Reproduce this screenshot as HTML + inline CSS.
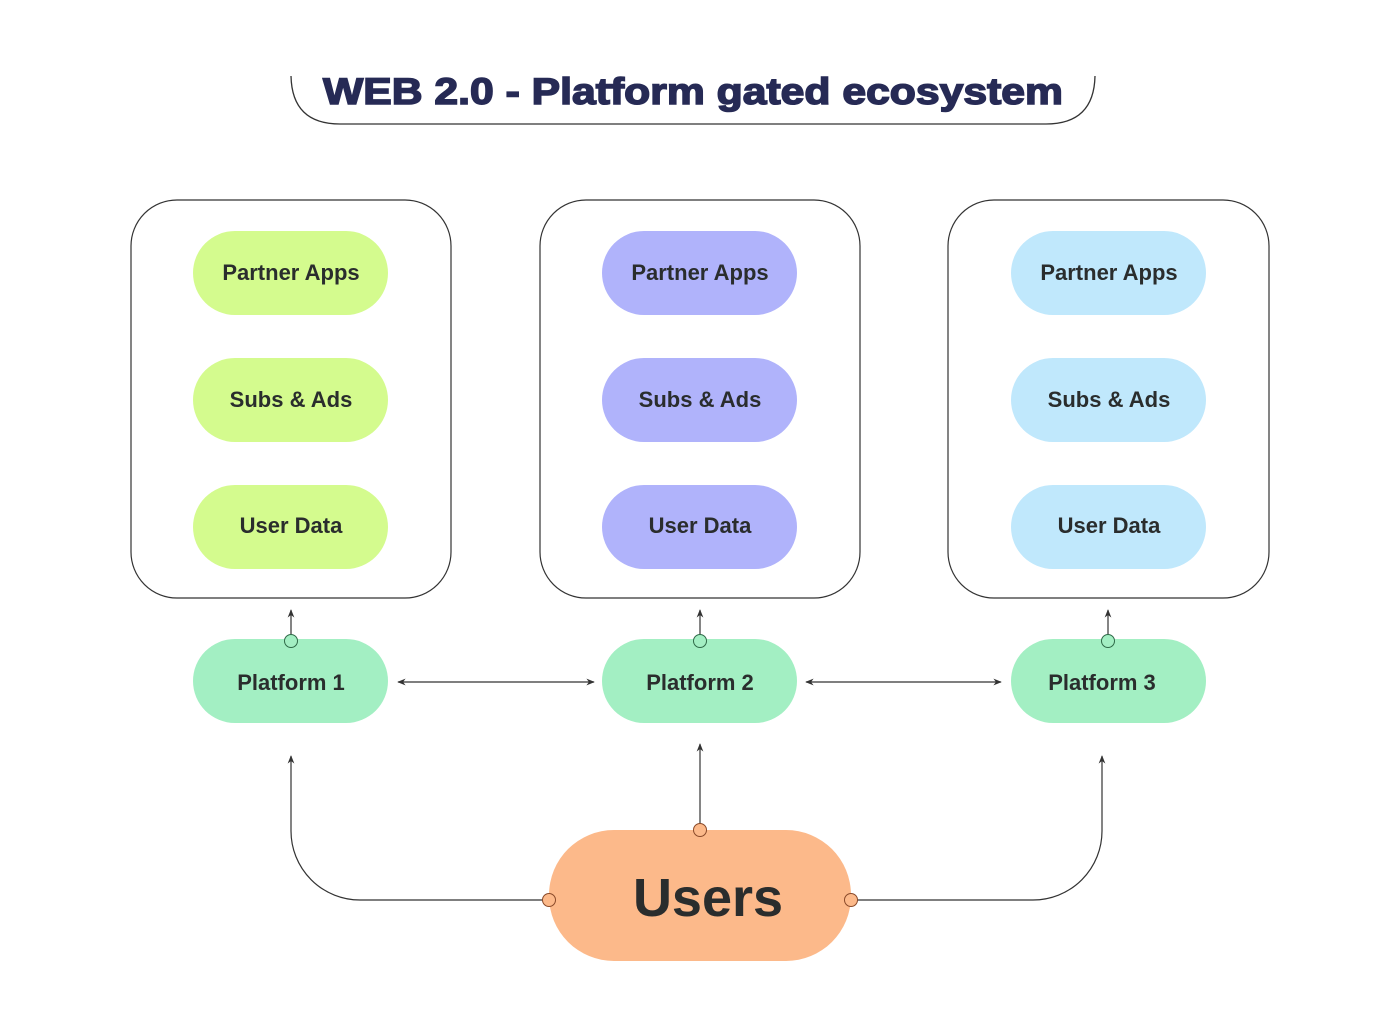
<!DOCTYPE html>
<html><head><meta charset="utf-8"><style>body{margin:0;background:#fff}svg{display:block}</style></head>
<body>
<svg width="1386" height="1026" viewBox="0 0 1386 1026" xmlns="http://www.w3.org/2000/svg" font-family="Liberation Sans, sans-serif">
<defs>
<marker id="a" viewBox="0 0 10 10" refX="9" refY="5" markerWidth="7" markerHeight="7" orient="auto-start-reverse"><path d="M0,1 L10,5 L0,9 L3,5 Z" fill="#333"/></marker>
</defs>
<path d="M291,76 Q292,124 340,124 H1046 Q1094,124 1095,76" fill="none" stroke="#333" stroke-width="1.3"/>
<text x="693" y="104" text-anchor="middle" font-size="37" font-weight="900" fill="#262a55" stroke="#262a55" stroke-width="1.5" textLength="740" lengthAdjust="spacingAndGlyphs">WEB 2.0 - Platform gated ecosystem</text>
<g fill="none" stroke="#333" stroke-width="1.2">
<rect x="131" y="200" width="320" height="398" rx="46"/>
<rect x="540" y="200" width="320" height="398" rx="46"/>
<rect x="948" y="200" width="321" height="398" rx="46"/>
</g>
<g font-size="22" font-weight="bold" fill="#2a2d2d" text-anchor="middle">
<rect x="193" y="231" width="195" height="84" rx="42" fill="#d4fb8e"/>
<rect x="193" y="358" width="195" height="84" rx="42" fill="#d4fb8e"/>
<rect x="193" y="485" width="195" height="84" rx="42" fill="#d4fb8e"/>
<text x="291" y="280">Partner Apps</text><text x="291" y="407">Subs &amp; Ads</text><text x="291" y="533">User Data</text>
<rect x="602" y="231" width="195" height="84" rx="42" fill="#b0b3fb"/>
<rect x="602" y="358" width="195" height="84" rx="42" fill="#b0b3fb"/>
<rect x="602" y="485" width="195" height="84" rx="42" fill="#b0b3fb"/>
<text x="700" y="280">Partner Apps</text><text x="700" y="407">Subs &amp; Ads</text><text x="700" y="533">User Data</text>
<rect x="1011" y="231" width="195" height="84" rx="42" fill="#c0e8fc"/>
<rect x="1011" y="358" width="195" height="84" rx="42" fill="#c0e8fc"/>
<rect x="1011" y="485" width="195" height="84" rx="42" fill="#c0e8fc"/>
<text x="1109" y="280">Partner Apps</text><text x="1109" y="407">Subs &amp; Ads</text><text x="1109" y="533">User Data</text>
<rect x="193" y="639" width="195" height="84" rx="42" fill="#a3efc3"/>
<rect x="602" y="639" width="195" height="84" rx="42" fill="#a3efc3"/>
<rect x="1011" y="639" width="195" height="84" rx="42" fill="#a3efc3"/>
<text x="291" y="690">Platform 1</text><text x="700" y="690">Platform 2</text><text x="1102" y="690">Platform 3</text>
<rect x="549" y="830" width="302" height="131" rx="65" fill="#fcb98a"/>
<text x="708" y="916" font-size="54">Users</text>
</g>
<g fill="none" stroke="#333" stroke-width="1.2">
<line x1="291" y1="636" x2="291" y2="610" marker-end="url(#a)"/>
<line x1="700" y1="636" x2="700" y2="610" marker-end="url(#a)"/>
<line x1="1108" y1="636" x2="1108" y2="610" marker-end="url(#a)"/>
<line x1="398" y1="682" x2="594" y2="682" marker-start="url(#a)" marker-end="url(#a)"/>
<line x1="806" y1="682" x2="1001" y2="682" marker-start="url(#a)" marker-end="url(#a)"/>
<line x1="700" y1="826" x2="700" y2="744" marker-end="url(#a)"/>
<path d="M544,900 H360 A69,69 0 0 1 291,831 V756" marker-end="url(#a)"/>
<path d="M855,900 H1033 A69,69 0 0 0 1102,831 V756" marker-end="url(#a)"/>
</g>
<g stroke="#2f6a48" stroke-width="1" fill="#a3efc3">
<circle cx="291" cy="641" r="6.5"/><circle cx="700" cy="641" r="6.5"/><circle cx="1108" cy="641" r="6.5"/>
</g>
<g stroke="#8a4a2a" stroke-width="1" fill="#fcb98a">
<circle cx="700" cy="830" r="6.5"/><circle cx="549" cy="900" r="6.5"/><circle cx="851" cy="900" r="6.5"/>
</g>
</svg>
</body></html>
